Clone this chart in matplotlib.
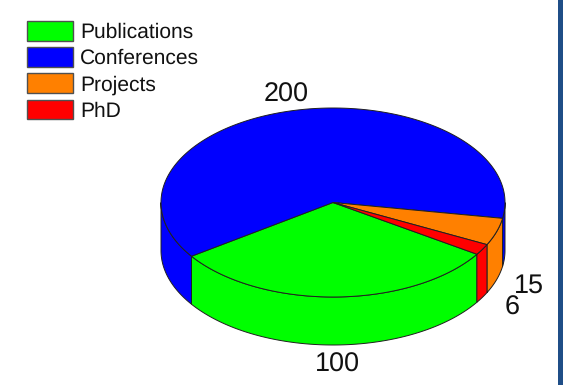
import numpy as np
import matplotlib
matplotlib.use('Agg')
import matplotlib.pyplot as plt
from matplotlib.patches import Patch

plt.rcParams['font.family'] = ['Liberation Sans', 'DejaVu Sans']
plt.rcParams['text.hinting'] = 'no_hinting'
plt.rcParams['text.hinting_factor'] = 1

categories = ['Publications', 'Conferences', 'Projects', 'PhD']
values = [100, 200, 15, 6]
colors = ['#00ff00', '#0000ff', '#ff8000', '#ff0000']
value_labels = ['100', '200', '15', '6']
label_pos = [(337, 372), (286.5, 102), (529, 293), (512.5, 315)]

# pie geometry, axes are in pixels with y pointing down
cx, cy = 333, 202.5
rx, ry = 172, 94.5
depth = 48
start_angle = -33.2  # degrees, slices run clockwise


def arc(a, b, dy=0):
    t = np.radians(np.linspace(a, b, max(int(abs(b - a)) * 2, 2)))
    return cx + rx * np.cos(t), cy - ry * np.sin(t) + dy


fig = plt.figure(figsize=(5.63, 3.85), dpi=100)
ax = fig.add_axes([0, 0, 1, 1])
ax.set_xlim(0, 563)
ax.set_ylim(385, 0)
ax.axis('off')

fracs = np.array(values) / sum(values) * 360
ends = start_angle - np.cumsum(fracs)
starts = ends + fracs

for a, b, c in zip(starts, ends, colors):
    # side wall, only the front half of the rim shows
    for turn in (0, -360):
        lo = min(a, 0 + turn)
        hi = max(b, -180 + turn)
        if lo > hi:
            x1, y1 = arc(lo, hi)
            x2, y2 = arc(hi, lo, depth)
            ax.fill(np.r_[x1, x2], np.r_[y1, y2], facecolor=c,
                    edgecolor='#202020', linewidth=0.7, zorder=2)

for a, b, c in zip(starts, ends, colors):
    x, y = arc(a, b)
    ax.fill(np.r_[cx, x], np.r_[cy, y], facecolor=c,
            edgecolor='#202020', linewidth=0.7, zorder=3)

for s, (x, y) in zip(value_labels, label_pos):
    ax.text(x, y, s, fontsize=19.4, color='#111111', ha='center', va='baseline')

handles = [Patch(facecolor=c, edgecolor='#505050', linewidth=1.0, label=n)
           for c, n in zip(colors, categories)]
leg = ax.legend(handles=handles, loc='upper left', bbox_to_anchor=(27, 21),
                bbox_transform=ax.transData, frameon=False, fontsize=15.1,
                borderpad=0, borderaxespad=0, handlelength=2.19,
                handleheight=1.07, labelspacing=0.23, handletextpad=0.33)
for t in leg.get_texts():
    t.set_color('#111111')

# dark strip down the right side
ax.axvspan(558, 563, color='#1f4e87', linewidth=0, zorder=1)

fig.savefig('out.png', dpi=100)
plt.close(fig)
